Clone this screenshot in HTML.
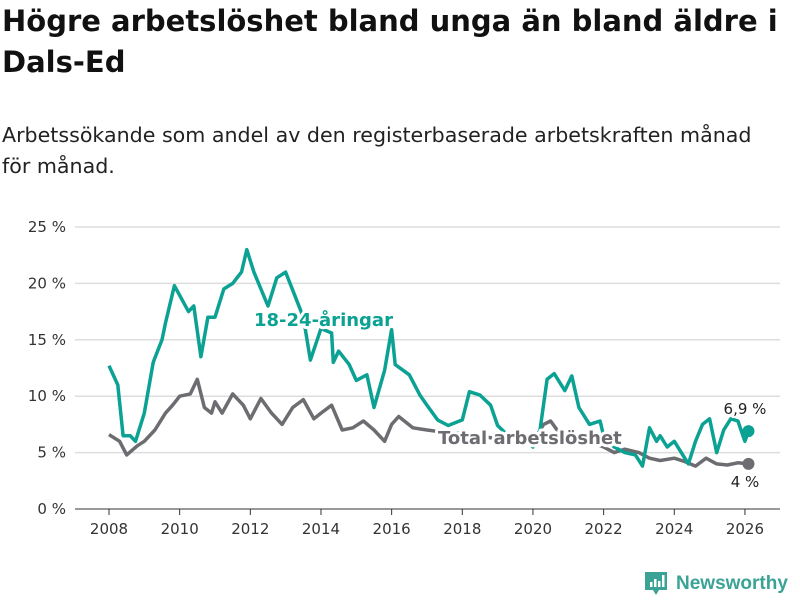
<!DOCTYPE html>
<html><head><meta charset="utf-8"><style>
body{margin:0;width:800px;height:600px;background:#fff;font-family:"DejaVu Sans","Liberation Sans",sans-serif;overflow:hidden;position:relative}
h1{position:absolute;left:2px;top:1px;margin:0;font-size:29px;line-height:41px;font-weight:bold;color:#111;width:796px}
.sub{position:absolute;left:2px;top:120px;font-size:20.6px;line-height:31px;color:#222;width:782px}
svg{position:absolute;left:0;top:0}
</style></head><body>
<h1>Högre arbetslöshet bland unga än bland äldre i Dals-Ed</h1>
<div class="sub">Arbetssökande som andel av den registerbaserade arbetskraften månad för månad.</div>
<svg width="800" height="600"></svg>
<script>
const yTicks=[0,5,10,15,20,25];
const xTicks=[2008,2010,2012,2014,2016,2018,2020,2022,2024,2026];
const youthT=[2008.0,2008.25,2008.4,2008.6,2008.75,2009.0,2009.25,2009.5,2009.6,2009.85,2010.25,2010.4,2010.6,2010.8,2011.0,2011.25,2011.5,2011.75,2011.9,2012.1,2012.5,2012.75,2013.0,2013.25,2013.5,2013.7,2014.0,2014.3,2014.35,2014.5,2014.8,2015.0,2015.3,2015.5,2015.8,2016.0,2016.1,2016.5,2016.8,2017.0,2017.3,2017.6,2018.0,2018.2,2018.5,2018.8,2019.0,2019.3,2019.6,2020.0,2020.2,2020.4,2020.6,2020.9,2021.1,2021.3,2021.6,2021.9,2022.0,2022.3,2022.6,2022.9,2023.1,2023.3,2023.5,2023.6,2023.8,2024.0,2024.2,2024.4,2024.6,2024.8,2025.0,2025.2,2025.4,2025.6,2025.8,2026.0,2026.1];
const youthV=[12.7,11,6.5,6.5,6,8.5,13,15,16.5,19.8,17.5,18,13.5,17,17,19.5,20,21,23,21,18,20.5,21,19,17,13.2,16,15.6,13,14,12.8,11.4,11.9,9,12.3,15.9,12.8,11.9,10.1,9.2,7.9,7.4,7.9,10.4,10.1,9.2,7.4,6.5,7,5.5,7,11.5,12,10.5,11.8,9,7.5,7.8,6.5,5.5,5,4.8,3.8,7.2,6,6.5,5.5,6,5,4,6,7.5,8,5,7,8,7.8,6,6.9];
const totT=[2008.0,2008.3,2008.5,2008.8,2009.0,2009.3,2009.6,2009.8,2010.0,2010.3,2010.5,2010.7,2010.9,2011.0,2011.2,2011.5,2011.8,2012.0,2012.3,2012.6,2012.9,2013.2,2013.5,2013.8,2014.0,2014.3,2014.6,2014.9,2015.2,2015.5,2015.8,2016.0,2016.2,2016.6,2017.0,2017.5,2018.0,2018.5,2019.0,2019.5,2020.0,2020.3,2020.5,2020.8,2021.2,2021.6,2022.0,2022.3,2022.6,2023.0,2023.3,2023.6,2024.0,2024.3,2024.6,2024.9,2025.2,2025.5,2025.8,2026.1];
const totV=[6.6,6,4.8,5.6,6,7,8.5,9.2,10,10.2,11.5,9,8.5,9.5,8.5,10.2,9.2,8,9.8,8.5,7.5,9,9.7,8,8.5,9.2,7,7.2,7.8,7,6,7.5,8.2,7.2,7,6.8,6.7,6.5,6.2,6,6,7.5,7.8,6.5,6,6,5.5,5,5.3,5,4.5,4.3,4.5,4.2,3.8,4.5,4,3.9,4.1,4];
const NS='http://www.w3.org/2000/svg';
const svg=document.querySelector('svg');
const X=t=>109+(t-2008)*35.33;
const Y=v=>509-v*11.28;
function mk(tag,attrs,parent){const e=document.createElementNS(NS,tag);for(const k in attrs)e.setAttribute(k,attrs[k]);(parent||svg).appendChild(e);return e;}
yTicks.forEach(v=>{
 const l=mk('line',{x1:75,x2:780,y1:Y(v),y2:Y(v),stroke:v===0?'#333':'#ddd','stroke-width':v===0?1:1.5});
 
 
 const t=mk('text',{x:66,y:Y(v)+5,'text-anchor':'end','font-size':15,fill:'#333'});
 t.textContent=v+' %';
 
 
});
xTicks.forEach(y=>{
 const l=mk('line',{x1:X(y),x2:X(y),y1:509,y2:515,stroke:'#333'});
 
 
 const t=mk('text',{x:X(y),y:534,'text-anchor':'middle','font-size':15,fill:'#333'});
 t.textContent=y;
 
 
});
function line(ts,vs,c,name){
 const d=ts.map((t,i)=>(i?'L':'M')+X(t).toFixed(1)+','+Y(vs[i]).toFixed(1)).join('');
 const p=mk('path',{d:d,fill:'none',stroke:c,'stroke-width':3.5,'stroke-linejoin':'round'});
 
 
 const n=ts.length-1;
 const dot=mk('circle',{cx:X(ts[n]),cy:Y(vs[n]),r:6,fill:c});
 
 
}
line(totT,totV,'#6d6c71','total-line');
line(youthT,youthV,'#0ba193','youth-line');
function lab(x,y,s,c,fs,name,anchor){
 const t=mk('text',{x:x,y:y,'font-size':fs,'font-weight':'bold',fill:c,stroke:'#fff','stroke-width':6,'paint-order':'stroke','stroke-linejoin':'round','text-anchor':anchor||'start'});
 t.textContent=s;
 
 
}
lab(254,326,'18-24-åringar','#0ba193',18,'youth-label');
lab(438,444,'Total arbetslöshet','#6d6c71',18,'total-label');
const e1=mk('text',{x:745,y:414,'text-anchor':'middle','font-size':15,fill:'#222',stroke:'#fff','stroke-width':4,'paint-order':'stroke'});
e1.textContent='6,9 %';


const e2=mk('text',{x:745,y:487,'text-anchor':'middle','font-size':15,fill:'#222'});
e2.textContent='4 %';


const g=mk('g',{});


mk('path',{d:'M645,572 h22 v18 h-8 l-3,5 l-3,-5 h-8 z',fill:'#3aa396'},g);
mk('rect',{x:650,y:582,width:2.5,height:5,fill:'#fff'},g);
mk('rect',{x:654,y:579,width:2.5,height:8,fill:'#fff'},g);
mk('rect',{x:658,y:581,width:2.5,height:6,fill:'#fff'},g);
mk('rect',{x:662,y:575,width:2.5,height:12,fill:'#fff'},g);
const lt=mk('text',{x:676,y:589,'font-size':19,'font-weight':'bold',fill:'#3aa396','font-family':'Liberation Sans, sans-serif'},g);
lt.textContent='Newsworthy';
</script>
</body></html>
